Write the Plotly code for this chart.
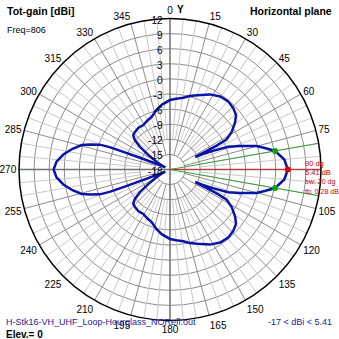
import plotly.graph_objects as go

# ---- data ----
# upper half of the azimuth pattern, theta from 270 through 0 to 90 (deg, clockwise from top)
theta_half = [270, 274, 278, 282, 285.5, 287.5, 289.5, 290.3, 290.8, 291.3, 292.5, 294, 296,
              300, 304, 307, 310, 313, 317, 323, 329, 335, 341, 347, 353,
              0, 5, 10.5, 15, 20, 28, 34.5, 40.5, 46, 50.5, 54, 58.5, 62, 62.8, 63.2, 63.6,
              65, 66.5, 68.6, 71.5, 74.8, 77.2, 80, 85, 90]
gain_half = [5.13, 4.6, 3.4, 1.8, 0.2, -1.4, -3.2, -5.2, -8.1, -11.6, -15.0, -17.0, -16.3,
             -14.9, -12.8, -10.5, -8.9, -8.0, -7.8, -7.6, -7.7, -7.3, -6.9, -5.9, -5.0,
             -4.2, -3.9, -3.5, -2.9, -2.3, -1.1, -0.4, -0.2, -0.5, -1.0, -2.0, -3.6, -5.3, -7.5, -10.0, -12.4,
             -10.8, -8.7, -5.6, -3.3, -0.2, 1.3, 3.2, 4.8, 5.41]

max_dir = 90
max_gain = 5.41
bw_dirs = [80, 100]
bw_gain = 3.2

radial_ticks = [12, 9, 6, 3, 0, -3, -6, -9, -12, -15, -18]
angle_ticks = list(range(0, 360, 15))
angle_labels = [str(a) if a != 90 else "" for a in angle_ticks]

R_MIN, R_MAX = -18, 12

# full pattern by mirror symmetry about the 90-270 axis
theta_full = theta_half + [(180 - t) % 360 for t in reversed(theta_half[:-1])]
gain_full = gain_half + list(reversed(gain_half[:-1]))

fig = go.Figure()

# spokes
def spokes(angles, r0):
    th, rr = [], []
    for a in angles:
        th += [a, a, None]
        rr += [r0, R_MAX, None]
    return th, rr

th5, r5 = spokes([a for a in range(0, 360, 5) if a % 15 != 0], -12)
fig.add_trace(go.Scatterpolar(theta=th5, r=r5, mode="lines",
                              line=dict(color="#c8c8c8", width=1), hoverinfo="skip"))
th15, r15 = spokes([a for a in range(0, 360, 15) if a % 90 != 0], -15)
fig.add_trace(go.Scatterpolar(theta=th15, r=r15, mode="lines",
                              line=dict(color="#8c8c8c", width=1), hoverinfo="skip"))
# main axes through centre
fig.add_trace(go.Scatterpolar(theta=[0, 0, 180, None, 90, 90, 270],
                              r=[R_MAX, R_MIN, R_MAX, None, R_MAX, R_MIN, R_MAX],
                              mode="lines", line=dict(color="#707070", width=1.5), hoverinfo="skip"))

# beamwidth / max direction lines
for d in bw_dirs:
    fig.add_trace(go.Scatterpolar(theta=[d, d], r=[R_MIN, R_MAX + 3], mode="lines",
                                  line=dict(color="#3a9a3a", width=1), hoverinfo="skip", cliponaxis=False))
fig.add_trace(go.Scatterpolar(theta=[max_dir, max_dir], r=[R_MIN, R_MAX + 3], mode="lines",
                              line=dict(color="#cc3333", width=1), hoverinfo="skip", cliponaxis=False))

# pattern
fig.add_trace(go.Scatterpolar(theta=theta_full, r=gain_full, mode="lines",
                              line=dict(color="#0a14a8", width=2.5)))

fig.add_trace(go.Scatterpolar(theta=bw_dirs, r=[bw_gain, bw_gain], mode="markers",
                              marker=dict(color="#10a010", size=6)))
fig.add_trace(go.Scatterpolar(theta=[max_dir], r=[max_gain], mode="markers",
                              marker=dict(color="#e00000", size=6)))

fig.update_layout(
    width=339, height=339,
    margin=dict(l=0, r=0, t=0, b=0),
    paper_bgcolor="white",
    showlegend=False,
    font=dict(family="Liberation Sans, Arial, sans-serif", size=10, color="black"),
    polar=dict(
        bgcolor="white",
        domain=dict(x=[19 / 339, 321 / 339], y=[18.5 / 339, 320.5 / 339]),
        radialaxis=dict(range=[R_MIN, R_MAX], tickvals=radial_ticks,
                        ticktext=[str(v) for v in radial_ticks],
                        angle=90, side="counterclockwise", showline=False,
                        gridcolor="#8c8c8c", gridwidth=1, ticks="",
                        tickfont=dict(size=10, color="black")),
        angularaxis=dict(rotation=90, direction="clockwise",
                         tickvals=angle_ticks, ticktext=angle_labels,
                         showgrid=False, showline=True, linecolor="black", linewidth=1.5,
                         ticks="", tickfont=dict(size=10, color="black")),
    ),
)

ann = [
    dict(text="<b>Tot-gain [dBi]</b>", x=5, y=339 - 3, size=10.5, color="black", xa="left"),
    dict(text="Freq=806", x=5, y=339 - 23, size=9, color="black", xa="left"),
    dict(text="<b>Horizontal plane</b>", x=334, y=339 - 3, size=10.5, color="black", xa="right"),
    dict(text="<b>Y</b>", x=175, y=339 - 2, size=10, color="black", xa="left"),
    dict(text="H-Stk16-VH_UHF_Loop-Hourglass_NORefl.out", x=4, y=339 - 315, size=9, color="#1a1a9a", xa="left"),
    dict(text="<b>Elev.= 0</b>", x=4, y=339 - 327, size=10, color="black", xa="left"),
    dict(text="-17 < dBi < 5.41", x=334, y=339 - 315, size=9, color="#1a1a9a", xa="right"),
    dict(text="90 dg", x=303, y=339 - 157, size=7.5, color="#cc0000", xa="left"),
    dict(text="5.41 dB", x=303, y=339 - 166, size=7.5, color="#cc0000", xa="left"),
    dict(text="bw: 20 dg", x=303, y=339 - 176, size=7, color="#cc0000", xa="left"),
    dict(text="fb: 0.28 dB", x=303, y=339 - 186, size=7, color="#cc0000", xa="left"),
]
fig.update_layout(annotations=[
    dict(text=a["text"], x=a["x"] / 339, y=a["y"] / 339, xref="paper", yref="paper",
         xanchor=a["xa"], yanchor="top", showarrow=False,
         font=dict(size=a["size"], color=a["color"], family="Liberation Sans, Arial, sans-serif"))
    for a in ann
])

fig.write_html("out.html")
